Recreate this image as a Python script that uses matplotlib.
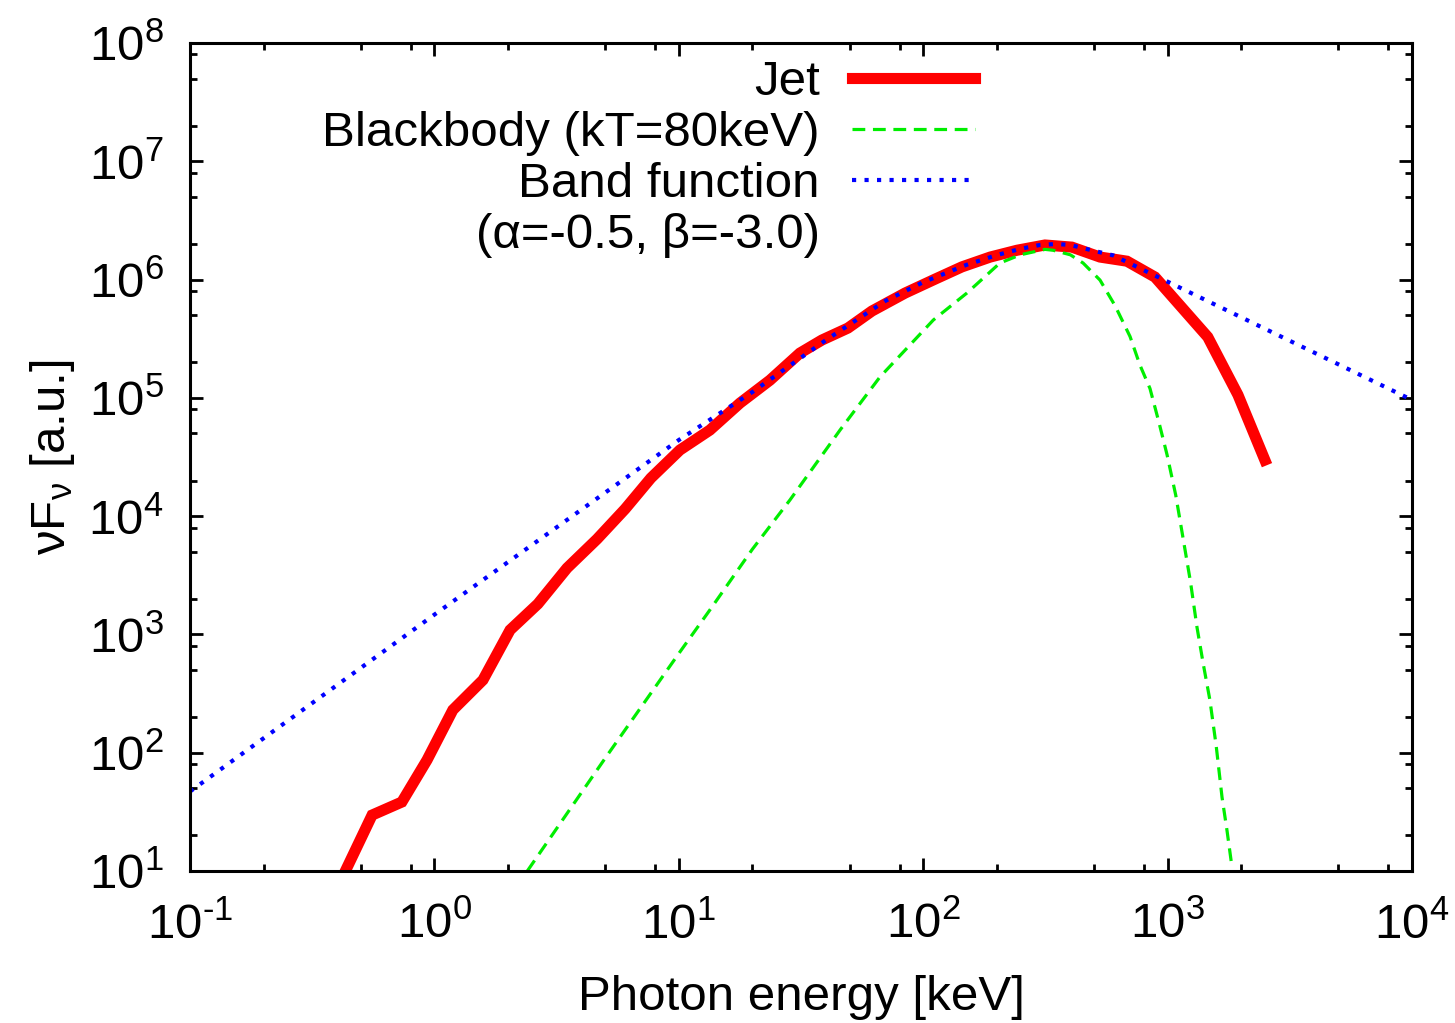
import matplotlib
matplotlib.use("Agg")
import matplotlib.pyplot as plt
import numpy as np
from matplotlib.ticker import LogLocator, NullFormatter, FuncFormatter
from matplotlib.lines import Line2D

plt.rcParams['font.family'] = ['Liberation Sans', 'DejaVu Sans']
plt.rcParams['mathtext.fontset'] = 'custom'
plt.rcParams['mathtext.rm'] = 'Liberation Sans'
plt.rcParams['mathtext.it'] = 'Liberation Sans'
plt.rcParams['mathtext.default'] = 'regular'
plt.rcParams['axes.unicode_minus'] = False

# Jet spectrum
jet_e = [0.423, 0.556, 0.736, 0.933, 1.19, 1.58, 2.04, 2.65, 3.49, 4.63, 6.03, 7.69,
         10.1, 13.4, 17.8, 23.6, 31.3, 38.5, 49.2, 61.7, 84.3, 112, 144, 188, 242,
         315, 406, 529, 682, 888, 1460, 1940, 2500]
jet_f = [9.1, 29.7, 38.3, 86.8, 230, 412, 1090, 1810, 3640, 6400, 11500, 21000,
         36200, 53400, 90400, 1.41e5, 2.39e5, 3.08e5, 3.89e5, 5.42e5, 7.69e5, 1.01e6,
         1.28e6, 1.55e6, 1.77e6, 1.96e6, 1.88e6, 1.55e6, 1.43e6, 1.05e6, 3.27e5,
         1.06e5, 2.98e4]

# Blackbody kT=80keV
bb_e = [2.4, 5, 10, 13.4, 20, 28.5, 45.7, 66.5, 110, 151, 206, 250, 281, 315, 340,
        400, 451, 529, 610, 702, 770, 847, 920, 995, 1080, 1157, 1240, 1319, 1400,
        1489, 1580, 1670, 1750, 1834]
bb_f = [10, 90, 690, 1610, 5250, 1.37e4, 5.35e4, 1.5e5, 4.55e5, 7.7e5, 1.38e6,
        1.62e6, 1.71e6, 1.8e6, 1.77e6, 1.62e6, 1.38e6, 9.9e5, 6.0e5, 3.3e5, 1.9e5,
        1.2e5, 6.3e4, 3.3e4, 1.5e4, 6500, 2800, 1150, 560, 280, 115, 42, 22, 10.8]

# Band function alpha=-0.5, beta=-3.0
band_e = [0.1, 1, 10, 20, 40, 70, 100, 150, 200, 250, 300, 350, 400, 500, 600, 700,
          1000, 2000, 5000, 10000]
band_f = [47, 1470, 4.4e4, 1.12e5, 3.08e5, 6.6e5, 9.5e5, 1.33e6, 1.61e6, 1.82e6,
          1.96e6, 2.0e6, 1.96e6, 1.75e6, 1.6e6, 1.37e6, 9.6e5, 4.8e5, 1.92e5, 9.6e4]


def pow10(v, pos):
    e = int(round(np.log10(v)))
    if e < 0:
        return r'$\mathregular{10^{\text{-}%d}}$' % (-e)
    return r'$\mathregular{10^{%d}}$' % e


fs = 35.5
fig = plt.figure(figsize=(14.55, 10.23), dpi=100)
ax = fig.add_axes([190/1455, 1 - 871/1023, 1222/1455, 828/1023])

ax.plot(jet_e, jet_f, color='#ff0000', lw=8, solid_joinstyle='miter', label='Jet')
ax.plot(bb_e, bb_f, color='#00ee00', lw=2.3, linestyle=(0, (4, 2.4)),
        label='Blackbody (kT=80keV)')
ax.plot(band_e, band_f, color='#0000ff', lw=3, linestyle=(0, (1, 2)),
        label='Band function')
ax.add_line(Line2D([], [], linestyle='none', label='(α=-0.5, β=-3.0)'))

ax.set_xscale('log')
ax.set_yscale('log')
ax.set_xlim(0.1, 1e4)
ax.set_ylim(10, 1e8)

for axis in (ax.xaxis, ax.yaxis):
    axis.set_major_locator(LogLocator(base=10, numticks=20))
    axis.set_major_formatter(FuncFormatter(pow10))
    axis.set_minor_locator(LogLocator(base=10, subs=(2, 5, 8), numticks=20))
    axis.set_minor_formatter(NullFormatter())

ax.tick_params(which='both', direction='in', top=True, right=True,
               labelsize=fs, width=2)
ax.tick_params(which='major', length=9.5)
ax.tick_params(which='minor', length=4.7)
ax.tick_params(axis='x', which='major', pad=22)
ax.tick_params(axis='y', which='major', pad=19)
for s in ax.spines.values():
    s.set_linewidth(2.2)

ax.set_xlabel('Photon energy [keV]', fontsize=fs, labelpad=19)
ax.set_ylabel('$\\mathregular{νF_ν}$ [a.u.]', fontsize=fs, labelpad=8)

leg = ax.legend(loc='upper right', bbox_to_anchor=(0.6424, 0.979), fontsize=fs,
                frameon=False, markerfirst=False, handlelength=2.5,
                handletextpad=0.65, labelspacing=0.12, borderpad=0,
                borderaxespad=0)

fig.savefig('out.png', dpi=100)
